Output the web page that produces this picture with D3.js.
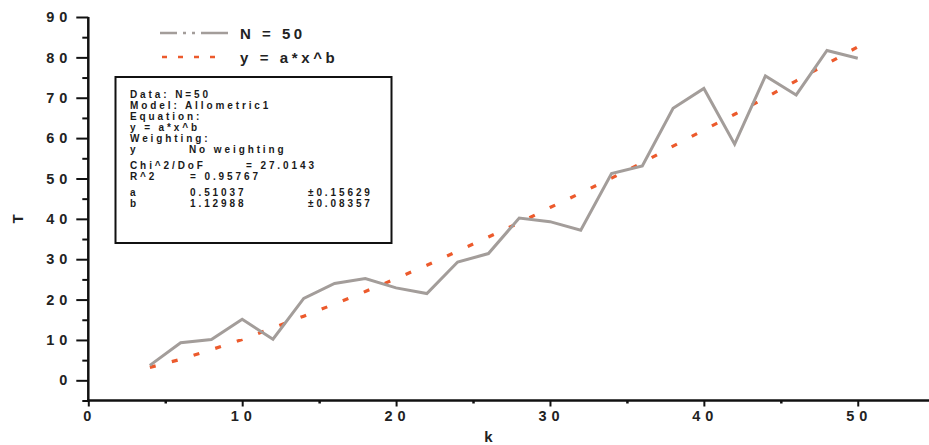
<!DOCTYPE html>
<html>
<head>
<meta charset="utf-8">
<script src="https://cdn.jsdelivr.net/npm/d3@7"></script>
<style>
  body { margin: 0; background: #fff; }
  svg { display: block; font-family: "Liberation Sans", Arial, sans-serif; font-weight: bold; }
</style>
</head>
<body>
<div id="chart"></div>
<script>
// k values (x) and measured T
const kValues = [4, 6, 8, 10, 12, 14, 16, 18, 20, 22, 24, 26, 28, 30, 32, 34, 36, 38, 40, 42, 44, 46, 48, 50];
const tValues = [3.7, 9.3, 10.1, 15.1, 10.2, 20.3, 24.0, 25.2, 22.9, 21.5, 29.3, 31.4, 40.2, 39.3, 37.2,
  51.2, 53.1, 67.4, 72.3, 58.5, 75.4, 70.7, 81.7, 79.8];
// fitted curve y = a*x^b
const fitValues = [3.2, 5.2, 7.6, 10.1, 13.0, 15.9, 18.9, 22.0, 25.2, 28.5, 32.0, 35.5, 39.0, 42.8, 46.4,
  50.1, 53.9, 58.0, 62.0, 65.9, 70.0, 74.2, 78.4, 82.6];

const xTicks = [0, 10, 20, 30, 40, 50];
const xMinorTicks = [5, 15, 25, 35, 45, 55];
const yTicks = [0, 10, 20, 30, 40, 50, 60, 70, 80, 90];
const yMinorTicks = [-5, 5, 15, 25, 35, 45, 55, 65, 75, 85];

const legendLabels = ['N = 50', 'y = a*x^b'];

const boxLines = [
  ['Data: N=50'],
  ['Model: Allometric1'],
  ['Equation:'],
  ['y = a*x^b'],
  ['Weighting:'],
  ['y', 'No weighting'],
  ['Chi^2/DoF', '= 27.0143'],
  ['R^2', '= 0.95767'],
  ['a', '0.51037', '\u00b10.15629'],
  ['b', '1.12988', '\u00b10.08357']
];

const width = 929, height = 445;
const grey = '#a39d9a', red = '#ec5a2c';

const svg = d3.select('#chart').append('svg')
  .attr('width', width)
  .attr('height', height);

const x = d3.scaleLinear().domain([0, 55]).range([88.3, 934.7]);
const y = d3.scaleLinear().domain([-5, 90]).range([400.5, 17]);

// y axis
const yAxis = svg.append('g')
  .attr('transform', 'translate(' + x(0) + ',0)')
  .call(d3.axisLeft(y).tickValues(yTicks).tickSize(12).tickSizeOuter(0).tickPadding(9));
yAxis.select('.domain').remove();
yAxis.selectAll('line').attr('stroke', '#111').attr('stroke-width', 2);
yAxis.selectAll('text')
  .attr('fill', '#222')
  .attr('font-size', 14.5)
  .attr('letter-spacing', 5)
  .attr('dx', 5)
  .attr('font-family', '"Liberation Sans", Arial, sans-serif')
  .attr('font-weight', 'bold');

const yMinor = svg.append('g')
  .attr('transform', 'translate(' + x(0) + ',0)')
  .call(d3.axisLeft(y).tickValues(yMinorTicks).tickSize(6).tickFormat(''));
yMinor.select('.domain').remove();
yMinor.selectAll('line').attr('stroke', '#111').attr('stroke-width', 2);

// x axis
const xAxis = svg.append('g')
  .attr('transform', 'translate(0,' + y(-5) + ')')
  .call(d3.axisBottom(x).tickValues(xTicks).tickSize(6).tickSizeOuter(0).tickPadding(4));
xAxis.select('.domain').remove();
xAxis.selectAll('line').attr('stroke', '#111').attr('stroke-width', 2);
xAxis.selectAll('text')
  .attr('fill', '#222')
  .attr('font-size', 14.5)
  .attr('letter-spacing', 5)
  .attr('dx', 1)
  .attr('font-family', '"Liberation Sans", Arial, sans-serif')
  .attr('font-weight', 'bold');

const xMinor = svg.append('g')
  .attr('transform', 'translate(0,' + y(-5) + ')')
  .call(d3.axisBottom(x).tickValues(xMinorTicks).tickSize(3).tickFormat(''));
xMinor.select('.domain').remove();
xMinor.selectAll('line').attr('stroke', '#111').attr('stroke-width', 2.5);

// axis lines
svg.append('line')
  .attr('x1', x(0)).attr('x2', x(0))
  .attr('y1', y(90)).attr('y2', y(-5) + 1)
  .attr('stroke', '#111').attr('stroke-width', 2.5);
svg.append('line')
  .attr('x1', x(0) - 1).attr('x2', width)
  .attr('y1', y(-5)).attr('y2', y(-5))
  .attr('stroke', '#111').attr('stroke-width', 2.5);

// axis titles
svg.append('text')
  .attr('x', x(26)).attr('y', 442)
  .attr('text-anchor', 'middle')
  .attr('font-size', 15)
  .attr('fill', '#222')
  .text('k');
svg.append('text')
  .attr('transform', 'translate(23,219) rotate(-90)')
  .attr('text-anchor', 'middle')
  .attr('font-size', 15)
  .attr('fill', '#222')
  .text('T');

// data line
const points = kValues.map((k, i) => [k, tValues[i]]);
const fitPoints = kValues.map((k, i) => [k, fitValues[i]]);

const line = d3.line()
  .x(d => x(d[0]))
  .y(d => y(d[1]));

svg.append('path')
  .datum(fitPoints)
  .attr('d', line)
  .attr('fill', 'none')
  .attr('stroke', red)
  .attr('stroke-width', 3.2)
  .attr('stroke-dasharray', '6,16.7');

svg.append('path')
  .datum(points)
  .attr('d', line)
  .attr('fill', 'none')
  .attr('stroke', grey)
  .attr('stroke-width', 3)
  .attr('stroke-linejoin', 'miter');

// legend
svg.append('line')
  .attr('x1', 160).attr('x2', 228)
  .attr('y1', 33).attr('y2', 33)
  .attr('stroke', grey).attr('stroke-width', 2.5)
  .attr('stroke-dasharray', '17,6,3,6,3,6,30');
svg.append('line')
  .attr('x1', 162).attr('x2', 216)
  .attr('y1', 57).attr('y2', 57)
  .attr('stroke', red).attr('stroke-width', 2.5)
  .attr('stroke-dasharray', '5,11');

svg.selectAll('.legend-text')
  .data(legendLabels)
  .enter()
  .append('text')
  .attr('class', 'legend-text')
  .attr('x', 240)
  .attr('y', (d, i) => 38.5 + i * 24)
  .attr('font-size', 15)
  .attr('letter-spacing', (d, i) => i === 0 ? 3.5 : 3.6)
  .attr('fill', '#222')
  .text(d => d);

// fit results box
svg.append('rect')
  .attr('x', 115.5).attr('y', 77)
  .attr('width', 276).attr('height', 166)
  .attr('fill', 'none')
  .attr('stroke', '#111')
  .attr('stroke-width', 2);

const lineY = [98.3, 109.3, 120, 131, 141.7, 152.7, 169, 180, 195.7, 206.7];
const colX = {
  5: [130, 189],
  6: [130, 246],
  7: [130, 190],
  8: [130, 190, 308],
  9: [130, 190, 308]
};

boxLines.forEach((cols, i) => {
  cols.forEach((t, j) => {
    const xs = colX[i] || [130];
    svg.append('text')
      .attr('x', xs[j])
      .attr('y', lineY[i])
      .attr('font-size', 10)
      .attr('letter-spacing', 2.9)
      .attr('fill', '#1a1a1a')
      .text(t);
  });
});
</script>
</body>
</html>
